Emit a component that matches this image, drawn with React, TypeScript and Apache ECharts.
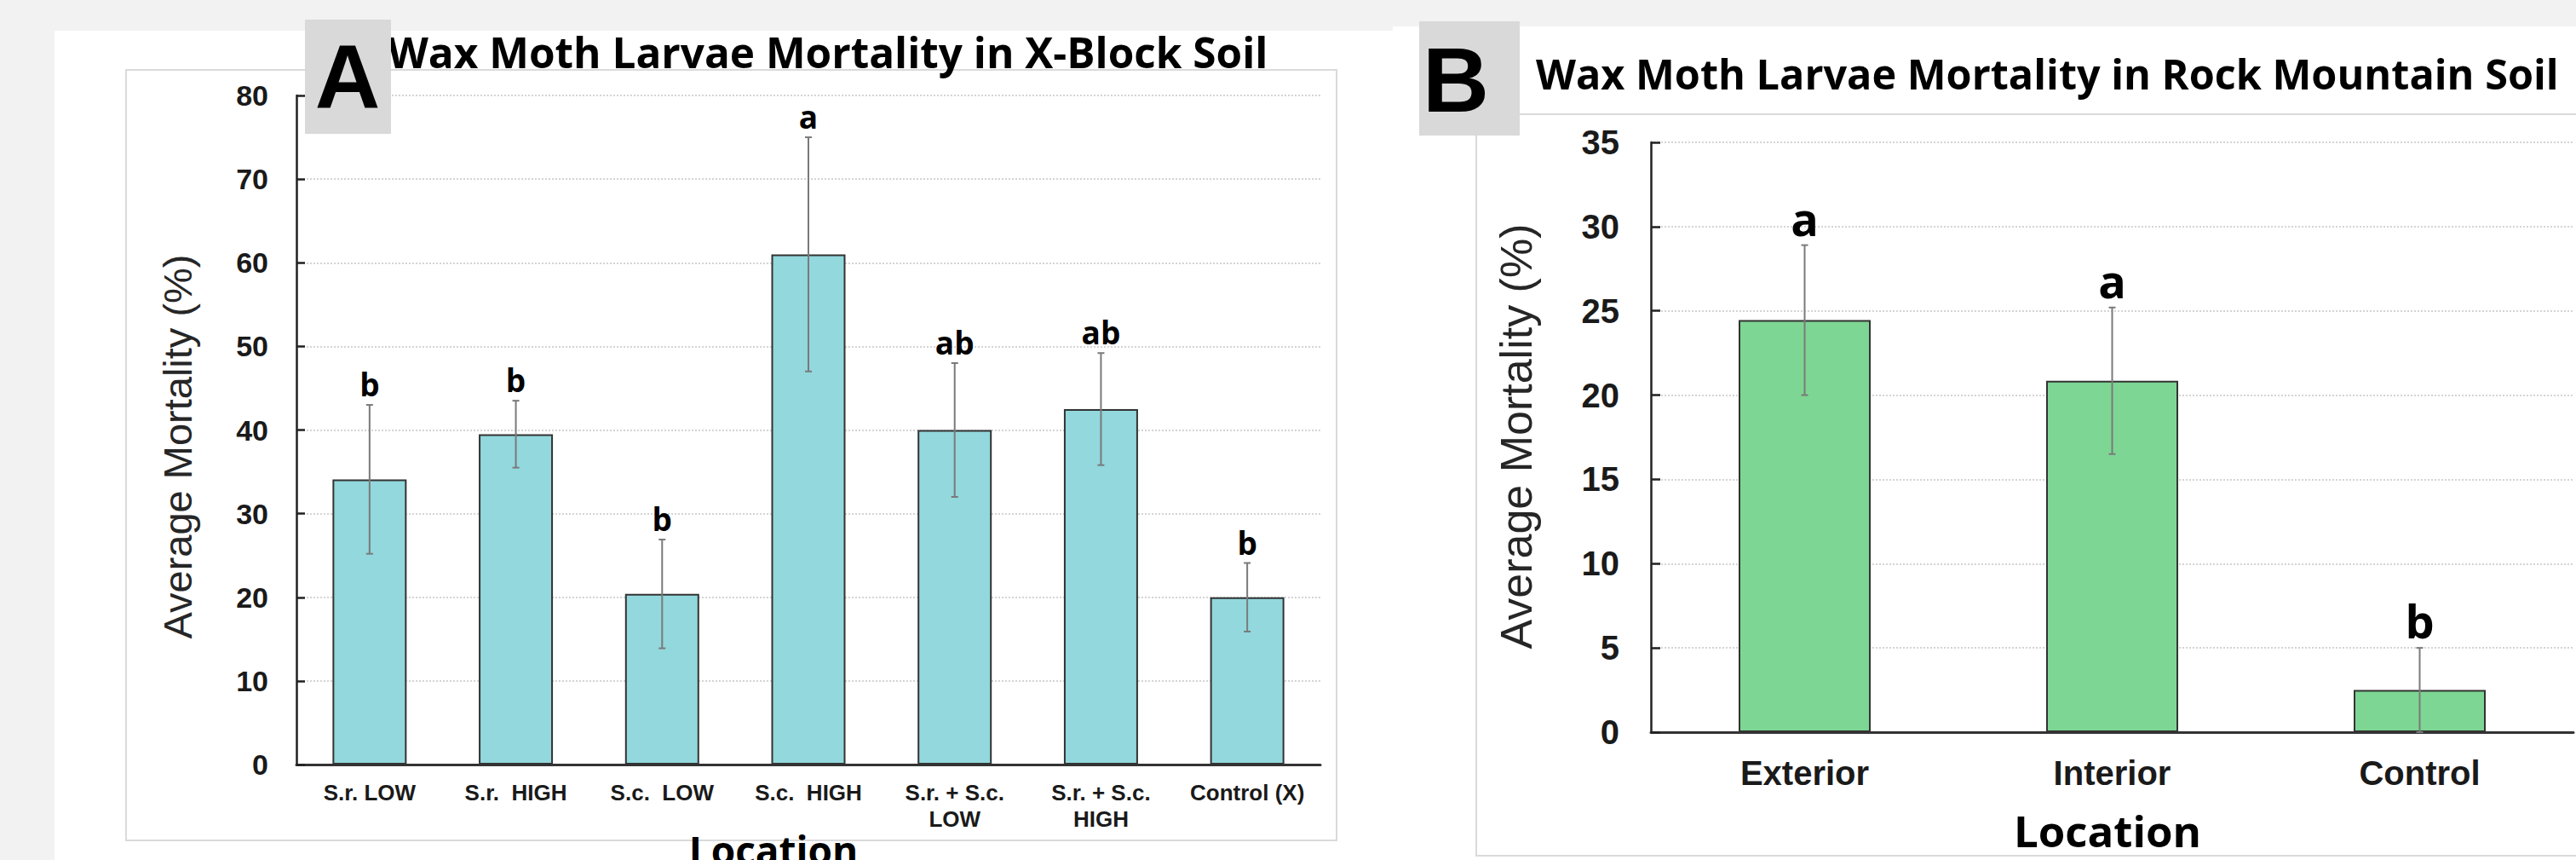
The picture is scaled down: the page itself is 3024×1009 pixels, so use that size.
import React, { useEffect, useRef } from "react";
import * as echarts from "echarts";

// ---- Panel A data ----
const catsA = ["S.r. LOW", "S.r.  HIGH", "S.c.  LOW", "S.c.  HIGH", "S.r. + S.c.\nLOW", "S.r. + S.c.\nHIGH", "Control (X)"];
const meansA = [34.1, 39.5, 20.4, 61.0, 40.0, 42.5, 20.0];
const errsA = [8.9, 4.0, 6.5, 14.0, 8.0, 6.7, 4.1];
const lettersA = ["b", "b", "b", "a", "ab", "ab", "b"];
const yMaxA = 80;
const yStepA = 10;

// ---- Panel B data ----
const catsB = ["Exterior", "Interior", "Control"];
const meansB = [24.45, 20.85, 2.5];
const errsB = [4.45, 4.35, 2.5];
const lettersB = ["a", "a", "b"];
const yMaxB = 35;
const yStepB = 5;

const titleA = "Wax Moth Larvae Mortality in X-Block Soil";
const titleB = "Wax Moth Larvae Mortality in Rock Mountain Soil";
const yTitle = "Average Mortality (%)";
const xTitle = "Location";

const ARIAL = "Liberation Sans";
const CAL = "Open Sans";

function makeErrRender(letters: string[], fs: number, gap: number) {
  return (params: any, api: any) => {
    const i = api.value(0);
    const m = api.value(1);
    const e = api.value(2);
    const top = api.coord([i, m + e]);
    const bot = api.coord([i, Math.max(0, m - e)]);
    const cap = 4;
    const st = { stroke: "#7a7a7a", lineWidth: 2 };
    return {
      type: "group",
      children: [
        { type: "line", shape: { x1: top[0], y1: top[1], x2: bot[0], y2: bot[1] }, style: st },
        { type: "line", shape: { x1: top[0] - cap, y1: top[1], x2: top[0] + cap, y2: top[1] }, style: st },
        { type: "line", shape: { x1: bot[0] - cap, y1: bot[1], x2: bot[0] + cap, y2: bot[1] }, style: st },
        {
          type: "text",
          x: top[0],
          y: top[1] - gap,
          style: {
            text: letters[params.dataIndex],
            fontFamily: CAL,
            fontWeight: "bold",
            fontSize: fs,
            fill: "#000",
            align: "center",
            verticalAlign: "bottom",
            textAlign: "center",
            textVerticalAlign: "bottom",
          },
        },
      ],
    };
  };
}

export default function App() {
  const ref = useRef<HTMLDivElement>(null);
  useEffect(() => {
    document.body.style.margin = "0";
    const chart = echarts.init(ref.current!, undefined, { renderer: "svg" });
    const yAxisBase = (max: number, step: number, fs: number, margin: number, tickLen: number) => ({
      type: "value",
      min: 0,
      max,
      interval: step,
      axisLine: { show: true, lineStyle: { color: "#222", width: 2.5 } },
      axisTick: { show: true, inside: true, length: tickLen, lineStyle: { color: "#222", width: 2.5 } },
      axisLabel: { margin, fontFamily: ARIAL, fontWeight: "bold", fontSize: fs, color: "#1a1a1a" },
      splitLine: { show: true, lineStyle: { type: "dotted", color: "#d4d4d4", width: 2 } },
    });
    const option: any = {
      animation: false,
      backgroundColor: "#f2f2f2",
      grid: [
        { left: 348, top: 112, width: 1202, height: 785 },
        { left: 1938, top: 167, width: 1083, height: 692 },
      ],
      xAxis: [
        {
          gridIndex: 0,
          type: "category",
          data: catsA,
          axisLine: { lineStyle: { color: "#333", width: 3 } },
          axisTick: { show: false },
          axisLabel: { interval: 0, margin: 17, fontFamily: ARIAL, fontWeight: "bold", fontSize: 26, lineHeight: 31, color: "#1a1a1a" },
        },
        {
          gridIndex: 1,
          type: "category",
          data: catsB,
          axisLine: { lineStyle: { color: "#333", width: 3 } },
          axisTick: { show: false },
          axisLabel: { interval: 0, margin: 28, fontFamily: ARIAL, fontWeight: "bold", fontSize: 40, lineHeight: 40, color: "#1a1a1a" },
        },
      ],
      yAxis: [
        { gridIndex: 0, ...yAxisBase(yMaxA, yStepA, 34, 33, 10) },
        { gridIndex: 1, ...yAxisBase(yMaxB, yStepB, 40, 37, 11) },
      ],
      series: [
        {
          type: "bar",
          xAxisIndex: 0,
          yAxisIndex: 0,
          data: meansA,
          barWidth: 87,
          itemStyle: { color: "#92D8DD", borderColor: "#333", borderWidth: 2 },
        },
        {
          type: "custom",
          xAxisIndex: 0,
          yAxisIndex: 0,
          data: meansA.map((m, i) => [i, m, errsA[i]]),
          encode: { x: 0, y: 1 },
          renderItem: makeErrRender(lettersA, 37, 6),
          z: 5,
        },
        {
          type: "bar",
          xAxisIndex: 1,
          yAxisIndex: 1,
          data: meansB,
          barWidth: 155,
          itemStyle: { color: "#7DD693", borderColor: "#333", borderWidth: 2 },
        },
        {
          type: "custom",
          xAxisIndex: 1,
          yAxisIndex: 1,
          data: meansB.map((m, i) => [i, m, errsB[i]]),
          encode: { x: 0, y: 1 },
          renderItem: makeErrRender(lettersB, 54, 5),
          z: 5,
        },
      ],
      graphic: [
        { type: "rect", z: -10, silent: true, shape: { x: 64, y: 36, width: 1571, height: 990 }, style: { fill: "#fff" } },
        { type: "rect", z: -10, silent: true, shape: { x: 1635, y: 31, width: 1400, height: 990 }, style: { fill: "#fff" } },
        { type: "rect", z: -5, silent: true, shape: { x: 148, y: 82, width: 1421, height: 904 }, style: { fill: "none", stroke: "#dadada", lineWidth: 2 } },
        { type: "rect", z: -5, silent: true, shape: { x: 1733, y: 134, width: 1330, height: 870 }, style: { fill: "none", stroke: "#dadada", lineWidth: 2 } },
        { type: "text", z: 50, x: 455, y: 61, style: { text: titleA, fontFamily: CAL, fontWeight: "bold", fontSize: 49.5, fill: "#000", textAlign: "left", textVerticalAlign: "middle" } },
        { type: "text", z: 50, x: 1803, y: 86, style: { text: titleB, fontFamily: CAL, fontWeight: "bold", fontSize: 48.6, fill: "#000", textAlign: "left", textVerticalAlign: "middle" } },
        { type: "text", z: 50, x: 208, y: 524, rotation: Math.PI / 2, style: { text: yTitle, fontFamily: ARIAL, fontSize: 47, fill: "#262626", textAlign: "center", textVerticalAlign: "middle" } },
        { type: "text", z: 50, x: 1780, y: 512, rotation: Math.PI / 2, style: { text: yTitle, fontFamily: ARIAL, fontSize: 52, fill: "#262626", textAlign: "center", textVerticalAlign: "middle" } },
        { type: "text", z: 50, x: 908, y: 974, style: { text: xTitle, fontFamily: CAL, fontWeight: "bold", fontSize: 46, fill: "#000", textAlign: "center", textVerticalAlign: "top" } },
        { type: "text", z: 50, x: 2474, y: 974, style: { text: xTitle, fontFamily: CAL, fontWeight: "bold", fontSize: 51, fill: "#000", textAlign: "center", textVerticalAlign: "middle" } },
        { type: "rect", z: 100, silent: true, shape: { x: 358, y: 23, width: 101, height: 134 }, style: { fill: "#d9d9d9" } },
        { type: "rect", z: 100, silent: true, shape: { x: 1666, y: 25, width: 118, height: 134 }, style: { fill: "#d9d9d9" } },
        { type: "text", z: 101, x: 408, y: 90, style: { text: "A", fontFamily: ARIAL, fontWeight: "bold", fontSize: 106, fill: "#000", textAlign: "center", textVerticalAlign: "middle" } },
        { type: "text", z: 101, x: 1709, y: 93, style: { text: "B", fontFamily: ARIAL, fontWeight: "bold", fontSize: 108, fill: "#000", textAlign: "center", textVerticalAlign: "middle" } },
      ],
    };
    chart.setOption(option);
    return () => chart.dispose();
  }, []);
  return <div ref={ref} style={{ width: 3024, height: 1009 }} />;
}
